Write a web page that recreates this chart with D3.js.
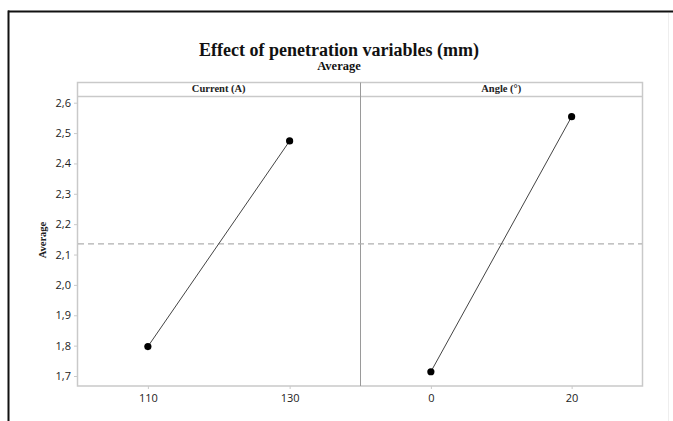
<!DOCTYPE html>
<html>
<head>
<meta charset="utf-8">
<script src="https://cdn.jsdelivr.net/npm/d3@7"></script>
<style>
  html, body { margin: 0; padding: 0; background: #fff; }
  svg { display: block; }
</style>
</head>
<body>
<svg id="chart" width="673" height="421"></svg>
<script>
// ---- data ----
const factors = ["Current (A)", "Angle (°)"];
const currentLevels = [110, 130];
const currentMeans = [1.797, 2.474];
const angleLevels = [0, 20];
const angleMeans = [1.714, 2.554];
const currentTicks = [110, 130];
const angleTicks = [0, 20];
const yTicks = [1.7, 1.8, 1.9, 2.0, 2.1, 2.2, 2.3, 2.4, 2.5, 2.6];
const overallMean = 2.135;
const title = "Effect of penetration variables (mm)";
const subtitle = "Average";
const yLabel = "Average";

// ---- layout ----
const svg = d3.select("#chart");
const W = 673, H = 421;
const boxLeft = 77, boxRight = 642, boxTop = 82.5, stripBottom = 96.5, boxBottom = 386;
const divX = 360.5;

// page frame
svg.append("line").attr("x1", 8).attr("x2", W).attr("y1", 11.5).attr("y2", 11.5)
  .attr("stroke", "#111").attr("stroke-width", 2);
svg.append("line").attr("x1", 8.5).attr("x2", 8.5).attr("y1", 10.5).attr("y2", H)
  .attr("stroke", "#111").attr("stroke-width", 2);
svg.append("line").attr("x1", 668.5).attr("x2", 668.5).attr("y1", 13).attr("y2", H)
  .attr("stroke", "#eee").attr("stroke-width", 1);

// titles
svg.append("text").attr("x", 339).attr("y", 56).attr("text-anchor", "middle")
  .attr("font-family", "Liberation Serif, serif").attr("font-weight", "bold")
  .attr("font-size", 18).attr("fill", "#111").text(title);
svg.append("text").attr("x", 339).attr("y", 70).attr("text-anchor", "middle")
  .attr("font-family", "Liberation Serif, serif").attr("font-weight", "bold")
  .attr("font-size", 12.5).attr("fill", "#111").text(subtitle);

// scales
const y = d3.scaleLinear().domain([1.7, 2.6]).range([376, 102.7]);
const x1 = d3.scaleLinear().domain([100, 140]).range([boxLeft, divX]);
const x2 = d3.scaleLinear().domain([-10, 30]).range([divX, boxRight]);

const gridColor = "#c9c9c9";

// box
svg.append("rect").attr("x", boxLeft + 0.5).attr("y", boxTop)
  .attr("width", boxRight - boxLeft).attr("height", boxBottom - boxTop)
  .attr("fill", "none").attr("stroke", gridColor).attr("stroke-width", 1.5);
svg.append("line").attr("x1", boxLeft).attr("x2", boxRight).attr("y1", stripBottom).attr("y2", stripBottom)
  .attr("stroke", gridColor).attr("stroke-width", 1.5);
svg.append("line").attr("x1", divX).attr("x2", divX).attr("y1", boxTop).attr("y2", boxBottom)
  .attr("stroke", "#9a9a9a").attr("stroke-width", 1);

// strip labels
svg.append("text").attr("x", (boxLeft + divX) / 2).attr("y", 92).attr("text-anchor", "middle")
  .attr("font-family", "Liberation Serif, serif").attr("font-weight", "bold")
  .attr("font-size", 10.5).attr("fill", "#222").text(factors[0]);
svg.append("text").attr("x", (divX + boxRight) / 2).attr("y", 92).attr("text-anchor", "middle")
  .attr("font-family", "Liberation Serif, serif").attr("font-weight", "bold")
  .attr("font-size", 10.5).attr("fill", "#222").text(factors[1]);

// y axis
const yAxis = d3.axisLeft(y).tickValues(yTicks).tickSize(3).tickPadding(3)
  .tickFormat(d => d3.format(".1f")(d).replace(".", ","));
const gy = svg.append("g").attr("transform", `translate(${boxLeft},0)`).call(yAxis);
gy.select(".domain").remove();
gy.selectAll(".tick line").attr("stroke", gridColor);
gy.selectAll(".tick text").attr("font-family", "Open Sans, Liberation Sans, sans-serif")
  .attr("font-size", 11).attr("fill", "#222");

// y label
svg.append("text").attr("transform", "translate(46,240) rotate(-90)").attr("text-anchor", "middle")
  .attr("font-family", "Liberation Serif, serif").attr("font-weight", "bold")
  .attr("font-size", 10.5).attr("fill", "#222").text(yLabel);

// x axes
function xAxis(scale, ticks) {
  const g = svg.append("g").attr("transform", `translate(0,${boxBottom})`)
    .call(d3.axisBottom(scale).tickValues(ticks).tickSize(3).tickPadding(5).tickFormat(d3.format("d")));
  g.select(".domain").remove();
  g.selectAll(".tick line").attr("stroke", gridColor);
  g.selectAll(".tick text").attr("font-family", "Open Sans, Liberation Sans, sans-serif")
    .attr("font-size", 11).attr("fill", "#222");
}
xAxis(x1, currentTicks);
xAxis(x2, angleTicks);

// mean reference line
svg.append("line").attr("x1", boxLeft + 1).attr("x2", boxRight)
  .attr("y1", y(overallMean)).attr("y2", y(overallMean))
  .attr("stroke", "#b0b0b0").attr("stroke-width", 1.2).attr("stroke-dasharray", "6,4");

// main effects lines and points
function panel(scale, levels, means) {
  const pts = levels.map((l, i) => [scale(l), y(means[i])]);
  svg.append("path").attr("d", d3.line()(pts)).attr("fill", "none")
    .attr("stroke", "#444").attr("stroke-width", 1);
  svg.selectAll(null).data(pts).enter().append("circle")
    .attr("cx", d => d[0]).attr("cy", d => d[1]).attr("r", 3.6).attr("fill", "#000");
}
panel(x1, currentLevels, currentMeans);
panel(x2, angleLevels, angleMeans);
</script>
</body>
</html>
